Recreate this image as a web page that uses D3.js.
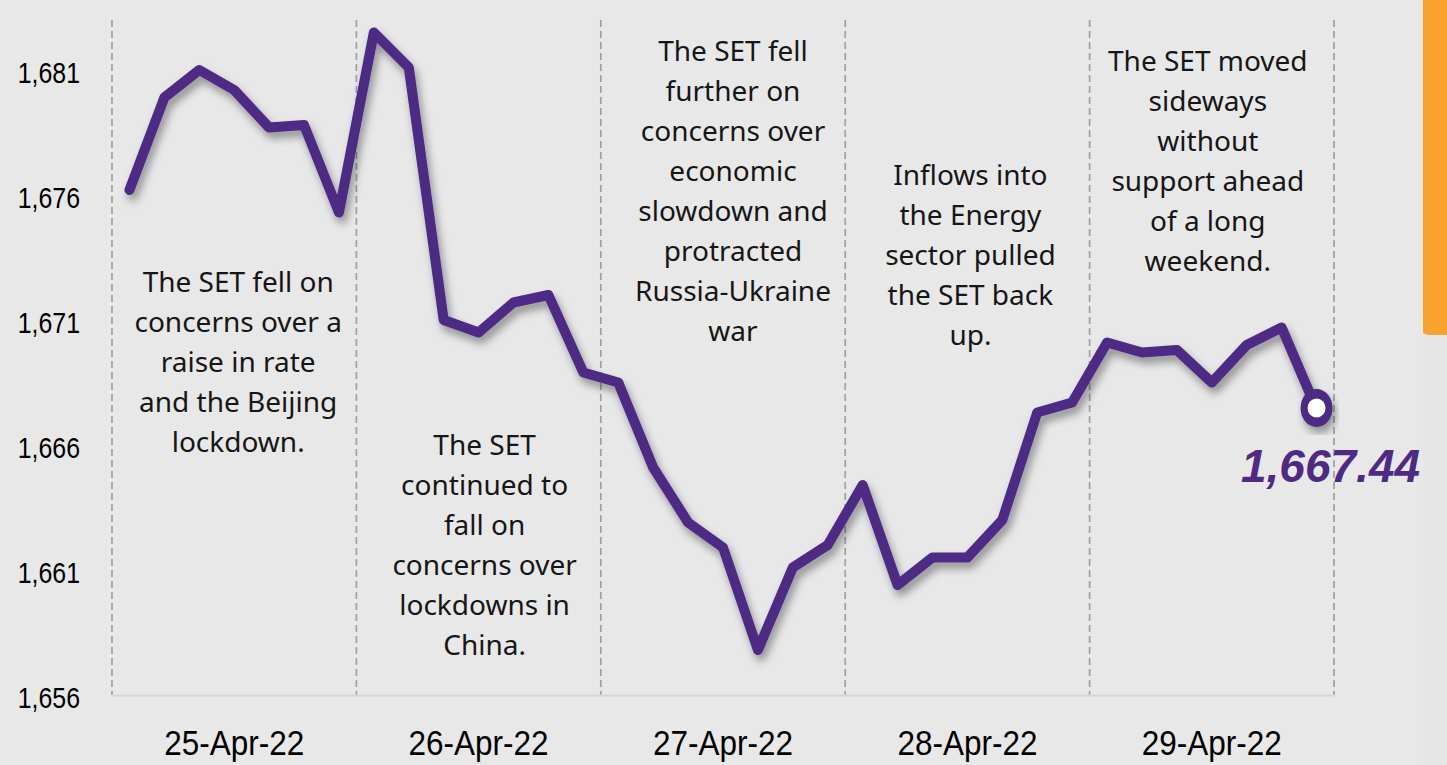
<!DOCTYPE html>
<html>
<head>
<meta charset="utf-8">
<script src="https://cdn.jsdelivr.net/npm/d3@7"></script>
<style>
  html, body { margin: 0; padding: 0; background: #e8e8e8; overflow: hidden; }
  svg { display: block; }
</style>
</head>
<body>
<svg id="chart" width="1447" height="765"></svg>
<script>
// ---------- DATA ----------
const days = ["25-Apr-22", "26-Apr-22", "27-Apr-22", "28-Apr-22", "29-Apr-22"];
const pointsPerDay = 7;
const setValues = [
  1676.2, 1679.9, 1681.0, 1680.2, 1678.7, 1678.8, 1675.3,
  1682.5, 1681.1, 1671.0, 1670.5, 1671.7, 1672.0, 1668.9,
  1668.5, 1665.1, 1662.9, 1661.9, 1657.8, 1661.1, 1662.0,
  1664.4, 1660.4, 1661.5, 1661.5, 1663.0, 1667.3, 1667.7,
  1670.1, 1669.7, 1669.8, 1668.5, 1670.0, 1670.7, 1667.44
];
const yTickValues = [1656, 1661, 1666, 1671, 1676, 1681];
const lastLabel = "1,667.44";
const notes = [
  ["The SET fell on", "concerns over a", "raise in rate", "and the Beijing", "lockdown."],
  ["The SET", "continued to", "fall on", "concerns over", "lockdowns in", "China."],
  ["The SET fell", "further on", "concerns over", "economic", "slowdown and", "protracted", "Russia-Ukraine", "war"],
  ["Inflows into", "the Energy", "sector pulled", "the SET back", "up."],
  ["The SET moved", "sideways", "without", "support ahead", "of a long", "weekend."]
];

// ---------- LAYOUT ----------
const W = 1447, H = 765;
const plot = { left: 112, right: 1334, top: 20, bottom: 695 };
const noteTopY = [282, 445, 51, 175, 61];   // centre of the first line of each note
const noteDx = [4, 6, 10, 3, -4];           // horizontal nudge from the day centre
const noteLineH = 40;
const purple = "#4e2a84";

const svg = d3.select("#chart");
svg.append("rect").attr("width", W).attr("height", H).attr("fill", "#e8e8e8");

// orange corner shape
svg.append("path")
  .attr("d", `M1423,0 L${W},0 L${W},343 L1423,333 Z`)
  .attr("fill", "#f9a32f");
svg.append("rect").attr("x", 1423).attr("y", 335).attr("width", 24).attr("height", H - 335)
  .attr("fill", "#e6e6e6");

const defs = svg.append("defs");
const f = defs.append("filter").attr("id", "shadow")
  .attr("x", "-10%").attr("y", "-10%").attr("width", "130%").attr("height", "130%");
f.append("feDropShadow").attr("dx", 3).attr("dy", 6).attr("stdDeviation", 4)
  .attr("flood-color", "#000").attr("flood-opacity", 0.38);

// scales
const idx = d3.range(setValues.length);
const x = d3.scaleBand().domain(idx).range([plot.left, plot.right]).paddingInner(0).paddingOuter(0);
const xc = i => x(i) + x.bandwidth() / 2;
const y = d3.scaleLinear().domain([1656, 1683]).range([plot.bottom, plot.top]);
const xDay = d3.scaleBand().domain(days).range([plot.left, plot.right]);

// vertical dashed separators
const seps = d3.range(days.length + 1).map(k => k === days.length ? plot.right : xDay(days[k]));
svg.append("g").selectAll("line").data(seps).join("line")
  .attr("x1", d => d).attr("x2", d => d)
  .attr("y1", plot.top).attr("y2", plot.bottom)
  .attr("stroke", "#a0a0a0").attr("stroke-width", 1.7)
  .attr("stroke-dasharray", "7,4");

// x axis (baseline)
svg.append("line")
  .attr("x1", plot.left).attr("x2", plot.right)
  .attr("y1", plot.bottom + 0.5).attr("y2", plot.bottom + 0.5)
  .attr("stroke", "#d6d6d6").attr("stroke-width", 2);

// day labels
const xAxis = d3.axisBottom(xDay).tickSize(0).tickPadding(0);
const gx = svg.append("g").attr("transform", `translate(0,${plot.bottom})`).call(xAxis);
gx.select(".domain").remove();
gx.selectAll(".tick text")
  .attr("y", 0).attr("dy", 0)
  .attr("font-family", "'Liberation Sans', Arial, sans-serif")
  .attr("font-size", 35).attr("fill", "#000")
  .attr("text-anchor", "middle")
  .attr("transform", "translate(0,60) scale(0.9,1)");

// y axis labels
const yAxis = d3.axisLeft(y).tickValues(yTickValues).tickSize(0).tickPadding(0)
  .tickFormat(d3.format(","));
const gy = svg.append("g").attr("transform", `translate(80,0)`).call(yAxis);
gy.select(".domain").remove();
gy.selectAll(".tick text")
  .attr("x", 0).attr("dy", 0)
  .attr("font-family", "'Liberation Sans', Arial, sans-serif")
  .attr("font-size", 30).attr("fill", "#000")
  .attr("text-anchor", "end")
  .attr("transform", "translate(0,12) scale(0.83,1)");

// annotations
notes.forEach((lines, k) => {
  const cx = xDay(days[k]) + xDay.bandwidth() / 2 + noteDx[k];
  const t = svg.append("text")
    .attr("font-family", "'Noto Sans', 'Open Sans', sans-serif")
    .attr("font-size", 28).attr("fill", "#161616")
    .attr("text-anchor", "middle");
  lines.forEach((ln, j) => {
    t.append("tspan").attr("x", cx).attr("y", noteTopY[k] + j * noteLineH + 10).text(ln);
  });
});

// line
const line = d3.line().x((d, i) => xc(i)).y(d => y(d)).curve(d3.curveLinear);
svg.append("path")
  .datum(setValues)
  .attr("d", line)
  .attr("fill", "none")
  .attr("stroke", purple)
  .attr("stroke-width", 10)
  .attr("stroke-linejoin", "round")
  .attr("stroke-linecap", "round")
  .attr("filter", "url(#shadow)");

// end marker
const li = setValues.length - 1;
const mg = svg.append("g").attr("filter", "url(#shadow)");
mg.append("ellipse").attr("cx", xc(li)).attr("cy", y(setValues[li]) - 1)
  .attr("rx", 16).attr("ry", 19).attr("fill", purple);
mg.append("ellipse").attr("cx", xc(li)).attr("cy", y(setValues[li]) - 1)
  .attr("rx", 9).attr("ry", 9.5).attr("fill", "#fff");

// end value label
svg.append("text")
  .attr("x", xc(li) + 14).attr("y", y(setValues[li]) + 73)
  .attr("text-anchor", "middle")
  .attr("font-family", "'Liberation Sans', Arial, sans-serif")
  .attr("font-size", 46).attr("font-weight", "bold").attr("font-style", "italic")
  .attr("fill", purple)
  .text(lastLabel);
</script>
</body>
</html>
